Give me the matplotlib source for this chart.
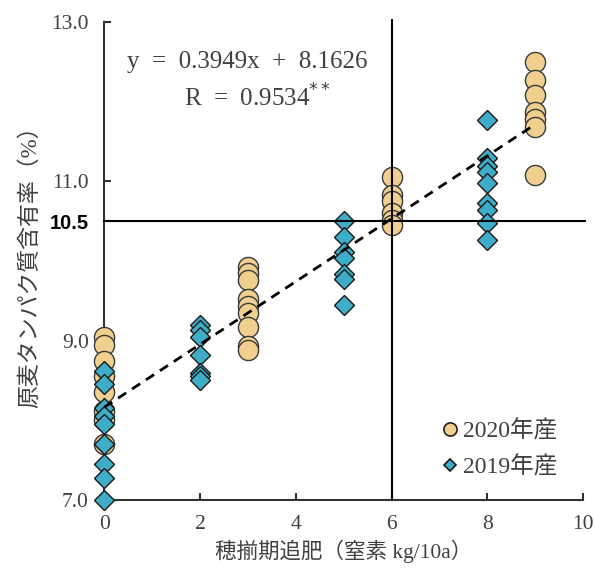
import numpy as np
import matplotlib
matplotlib.use("Agg")
import matplotlib.pyplot as plt
from matplotlib.lines import Line2D

# --- data ---
x_2020 = [0] * 8 + [3] * 9 + [6] * 6 + [9] * 7
y_2020 = [9.05, 8.95, 8.75, 8.55, 8.35, 8.12, 8.0, 7.7,
          9.92, 9.85, 9.76, 9.52, 9.43, 9.35, 9.17, 8.93, 8.88,
          11.05, 10.83, 10.76, 10.6, 10.52, 10.45,
          12.5, 12.27, 12.08, 11.87, 11.79, 11.68, 11.08]

x_2019 = [0] * 9 + [2] * 7 + [5] * 7 + [8] * 9
y_2019 = [8.62, 8.45, 8.15, 8.05, 7.95, 7.7, 7.45, 7.27, 7.0,
          9.2, 9.13, 9.05, 8.82, 8.6, 8.55, 8.5,
          10.5, 10.3, 10.12, 10.04, 9.84, 9.77, 9.45,
          11.77, 11.29, 11.2, 11.12, 10.98, 10.73, 10.64, 10.48, 10.26]

slope, intercept = 0.3949, 8.1626
fit_x = [0, 9]
label_2020 = "2020年産"
label_2019 = "2019年産"
x_ticks = [0, 2, 4, 6, 8, 10]
y_ticks = [7.0, 9.0, 11.0, 13.0]
target_x, target_y = 6, 10.5

serif_jp = ["Liberation Serif", "Noto Sans CJK JP"]
col_2020 = "#f1d08f"
col_2019 = "#3fadc8"
txt_col = "#404040"

fig = plt.figure(figsize=(5.95, 5.7), dpi=100)
ax = fig.add_axes([0.175, 0.123, 0.805, 0.838])

ax.plot(x_2020, y_2020, "o", ms=14.5, mfc=col_2020, mec="#3a3a3a", mew=1.0,
        clip_on=False, zorder=3)
ax.plot(x_2019, y_2019, "D", ms=10, mfc=col_2019, mec="#1a1a1a", mew=1.0,
        clip_on=False, zorder=4)

fx = np.array(fit_x)
ax.plot(fx, slope * fx + intercept, "--", color="black", lw=2,
        dashes=(3.5, 2.5), zorder=5)

ax.axvline(target_x, color="black", lw=1.5, zorder=6, ymax=1.005, clip_on=False)
ax.axhline(target_y, color="black", lw=1.5, zorder=6, xmax=1.005, clip_on=False)

ax.set_xlim(0, 10)
ax.set_ylim(7, 13)
ax.spines["top"].set_visible(False)
ax.spines["right"].set_visible(False)
for s in ("left", "bottom"):
    ax.spines[s].set_linewidth(1.5)
    ax.spines[s].set_color("#333333")

ax.set_xticks(x_ticks)
ax.set_xticklabels([str(v) for v in x_ticks], fontfamily="Liberation Serif",
                   fontsize=15.5, color=txt_col)
ax.set_yticks(y_ticks + [target_y])
ax.set_yticklabels([f"{v:.1f}" for v in y_ticks] + [f"{target_y:.1f}"],
                   fontfamily="Liberation Serif", fontsize=15.5, color=txt_col)
lab = ax.get_yticklabels()[-1]
lab.set_fontfamily("Liberation Sans")
lab.set_fontweight("bold")
lab.set_fontsize(14.5)
lab.set_color("black")
ax.tick_params(direction="in", length=5, width=1.5, color="#333333")
ax.tick_params(axis="x", pad=11)
ax.tick_params(axis="y", pad=11)

ax.set_xlabel("穂揃期追肥（窒素 kg/10a）", family=serif_jp, fontsize=15.5,
              color=txt_col, labelpad=4)
ax.set_ylabel("原麦タンパク質含有率（%）", family=serif_jp, fontsize=16.5,
              color=txt_col, labelpad=6)

ax.text(2.98, 12.5, f"y  =  {slope}x  +  {intercept}", ha="center", va="center",
        fontfamily="Liberation Serif", fontsize=18, color=txt_col)
ax.text(3.2, 12.05, "R  =  0.9534$^{**}$", ha="center", va="center",
        fontfamily="Liberation Serif", fontsize=18, color=txt_col)

handles = [
    Line2D([], [], ls="none", marker="o", ms=9.5, mfc=col_2020, mec="#222222", mew=1.2),
    Line2D([], [], ls="none", marker="D", ms=6.5, mfc=col_2019, mec="#1a1a1a", mew=1.2),
]
ax.legend(handles, [label_2020, label_2019], loc="lower right",
          bbox_to_anchor=(0.99, 0.0), frameon=False, handlelength=0.5,
          handletextpad=0.3, labelspacing=0.6,
          prop={"family": serif_jp, "size": 17}, labelcolor=txt_col)

fig.savefig("out.png", dpi=100)
